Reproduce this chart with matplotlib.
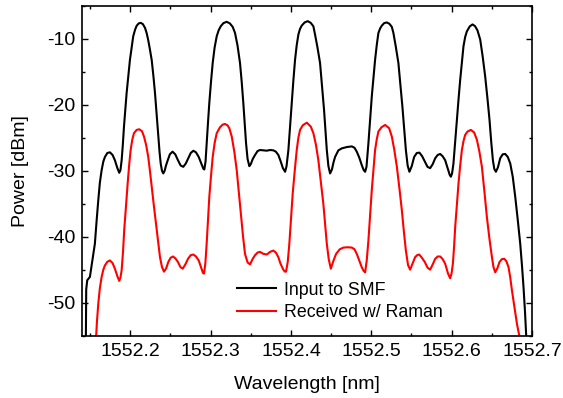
import matplotlib
matplotlib.use("Agg")
import matplotlib.pyplot as plt
from matplotlib.ticker import MultipleLocator

plt.rcParams['font.family'] = ['Liberation Sans', 'DejaVu Sans']

# Input to SMF (black): (wavelength nm, power dBm)
input_points = [
    (1552.1440, -58.0), (1552.1448, -55.0), (1552.1452, -48.0), (1552.1465, -46.6),
    (1552.1498, -46.1), (1552.1530, -43.5), (1552.1560, -41.05), (1552.1582, -37.5),
    (1552.1602, -34.5), (1552.1622, -31.8), (1552.1644, -29.9), (1552.1665, -28.6),
    (1552.1685, -27.9), (1552.1715, -27.3), (1552.1747, -27.2), (1552.1780, -27.6),
    (1552.1809, -28.4), (1552.1840, -29.6), (1552.1863, -30.3), (1552.1878, -29.9),
    (1552.1893, -28.4), (1552.1908, -26.0), (1552.1922, -23.3), (1552.1955, -18.2),
    (1552.1996, -13.2), (1552.2037, -9.6), (1552.2060, -8.6), (1552.2080, -8.0),
    (1552.2105, -7.65), (1552.2130, -7.56), (1552.2157, -7.75), (1552.2183, -8.3),
    (1552.2204, -9.1), (1552.2224, -10.2), (1552.2245, -11.6), (1552.2267, -13.2),
    (1552.2288, -15.6), (1552.2308, -18.2), (1552.2329, -21.5), (1552.2349, -24.8),
    (1552.2365, -27.2), (1552.2379, -28.9), (1552.2395, -30.0), (1552.2411, -30.4),
    (1552.2428, -30.0), (1552.2445, -29.2), (1552.2461, -28.6), (1552.2493, -27.5),
    (1552.2526, -27.1), (1552.2560, -27.5), (1552.2594, -28.4), (1552.2627, -29.2),
    (1552.2660, -29.4), (1552.2691, -28.9), (1552.2722, -28.1), (1552.2753, -27.3),
    (1552.2785, -26.96), (1552.2818, -27.2), (1552.2852, -27.9), (1552.2887, -29.0),
    (1552.2910, -29.7), (1552.2922, -29.8), (1552.2937, -28.6), (1552.2951, -25.8),
    (1552.2968, -22.6), (1552.2984, -19.7), (1552.3005, -16.5), (1552.3026, -13.65),
    (1552.3050, -11.3), (1552.3076, -9.6), (1552.3100, -8.7), (1552.3126, -8.08),
    (1552.3160, -7.6), (1552.3200, -7.4), (1552.3240, -7.65), (1552.3275, -8.17),
    (1552.3304, -9.1), (1552.3335, -11.0), (1552.3366, -13.65), (1552.3387, -16.5),
    (1552.3407, -19.7), (1552.3424, -22.8), (1552.3441, -25.8), (1552.3460, -28.2),
    (1552.3482, -29.3), (1552.3500, -29.0), (1552.3525, -28.2), (1552.3553, -27.6),
    (1552.3585, -27.0), (1552.3615, -26.85), (1552.3657, -26.9), (1552.3699, -26.95),
    (1552.3740, -26.85), (1552.3781, -26.9), (1552.3812, -27.1), (1552.3843, -27.6),
    (1552.3870, -28.5), (1552.3900, -29.6), (1552.3927, -30.15), (1552.3945, -29.3),
    (1552.3968, -26.85), (1552.3989, -23.2), (1552.4010, -19.7), (1552.4030, -16.3),
    (1552.4051, -13.15), (1552.4071, -11.0), (1552.4092, -9.35), (1552.4112, -8.5),
    (1552.4134, -7.98), (1552.4170, -7.5), (1552.4209, -7.3), (1552.4245, -7.55),
    (1552.4279, -8.08), (1552.4300, -9.35), (1552.4330, -11.3), (1552.4362, -13.65),
    (1552.4387, -17.2), (1552.4412, -20.8), (1552.4430, -24.0), (1552.4446, -26.85),
    (1552.4466, -29.3), (1552.4487, -30.4), (1552.4510, -29.8), (1552.4530, -28.7),
    (1552.4549, -27.9), (1552.4590, -26.9), (1552.4633, -26.6), (1552.4695, -26.4),
    (1552.4757, -26.3), (1552.4790, -26.5), (1552.4819, -27.1), (1552.4850, -28.0),
    (1552.4880, -29.1), (1552.4905, -29.9), (1552.4923, -30.15), (1552.4940, -29.4),
    (1552.4964, -25.8), (1552.4985, -22.2), (1552.5006, -18.7), (1552.5027, -15.8),
    (1552.5047, -13.15), (1552.5068, -10.9), (1552.5088, -9.1), (1552.5110, -8.4),
    (1552.5131, -7.98), (1552.5160, -7.6), (1552.5193, -7.5), (1552.5225, -7.7),
    (1552.5255, -8.17), (1552.5275, -9.1), (1552.5305, -11.2), (1552.5337, -13.65),
    (1552.5362, -16.9), (1552.5387, -20.3), (1552.5408, -23.6), (1552.5430, -26.85),
    (1552.5452, -29.2), (1552.5474, -30.15), (1552.5503, -29.3), (1552.5533, -27.9),
    (1552.5566, -27.3), (1552.5599, -27.25), (1552.5633, -27.8), (1552.5666, -28.6),
    (1552.5699, -29.4), (1552.5732, -29.6), (1552.5764, -29.0), (1552.5795, -28.1),
    (1552.5826, -27.6), (1552.5857, -27.45), (1552.5888, -27.8), (1552.5919, -28.4),
    (1552.5955, -29.8), (1552.5975, -30.6), (1552.5990, -30.9), (1552.6005, -30.4),
    (1552.6022, -28.9), (1552.6043, -25.6), (1552.6065, -22.3), (1552.6085, -19.2),
    (1552.6106, -16.2), (1552.6127, -13.5), (1552.6147, -11.1), (1552.6168, -9.7),
    (1552.6189, -8.85), (1552.6225, -8.1), (1552.6259, -7.8), (1552.6290, -8.05),
    (1552.6321, -8.7), (1552.6355, -10.1), (1552.6385, -12.6), (1552.6417, -15.7),
    (1552.6445, -19.0), (1552.6471, -22.3), (1552.6492, -25.6), (1552.6513, -28.4),
    (1552.6530, -29.7), (1552.6550, -30.15), (1552.6575, -29.5), (1552.6604, -28.1),
    (1552.6635, -27.5), (1552.6666, -27.45), (1552.6698, -27.9), (1552.6729, -28.9),
    (1552.6760, -30.9), (1552.6791, -33.95), (1552.6822, -37.4), (1552.6853, -41.05),
    (1552.6875, -44.4), (1552.6894, -47.65), (1552.6912, -51.3), (1552.6928, -55.0),
    (1552.6940, -58.0),
]

# Received w/ Raman (red): (wavelength nm, power dBm)
raman_points = [
    (1552.1567, -57.0), (1552.1585, -53.0), (1552.1602, -50.2), (1552.1622, -47.8),
    (1552.1644, -46.1), (1552.1665, -45.0), (1552.1685, -44.35), (1552.1715, -43.8),
    (1552.1747, -43.6), (1552.1780, -44.0), (1552.1809, -44.85), (1552.1840, -46.0),
    (1552.1863, -46.7), (1552.1878, -46.2), (1552.1893, -45.1), (1552.1910, -42.3),
    (1552.1925, -39.0), (1552.1947, -35.3), (1552.1968, -31.9), (1552.1986, -29.2),
    (1552.2005, -26.85), (1552.2025, -25.3), (1552.2046, -24.3), (1552.2080, -23.8),
    (1552.2112, -23.7), (1552.2146, -24.0), (1552.2171, -24.8), (1552.2198, -26.1),
    (1552.2224, -27.9), (1552.2245, -30.0), (1552.2267, -32.4), (1552.2293, -35.2),
    (1552.2320, -38.0), (1552.2345, -40.7), (1552.2370, -43.1), (1552.2395, -44.6),
    (1552.2420, -45.3), (1552.2447, -44.8), (1552.2473, -43.85), (1552.2502, -43.2),
    (1552.2532, -43.0), (1552.2563, -43.3), (1552.2594, -43.85), (1552.2624, -44.6),
    (1552.2653, -44.85), (1552.2686, -44.2), (1552.2719, -43.35), (1552.2752, -42.8),
    (1552.2785, -42.7), (1552.2818, -43.0), (1552.2852, -43.6), (1552.2885, -44.8),
    (1552.2905, -45.5), (1552.2918, -45.6), (1552.2935, -44.0), (1552.2951, -41.05),
    (1552.2968, -37.5), (1552.2984, -33.95), (1552.3005, -30.8), (1552.3026, -27.9),
    (1552.3050, -25.8), (1552.3076, -24.3), (1552.3117, -23.4), (1552.3150, -23.0),
    (1552.3179, -22.9), (1552.3210, -23.1), (1552.3233, -23.55), (1552.3263, -24.8),
    (1552.3295, -27.1), (1552.3325, -29.9), (1552.3352, -33.4), (1552.3379, -37.0),
    (1552.3404, -40.0), (1552.3428, -42.6), (1552.3460, -43.9), (1552.3491, -44.2),
    (1552.3522, -43.4), (1552.3553, -42.8), (1552.3585, -42.4), (1552.3615, -42.3),
    (1552.3657, -42.6), (1552.3699, -42.7), (1552.3740, -42.3), (1552.3781, -42.1),
    (1552.3812, -42.4), (1552.3843, -43.1), (1552.3870, -44.1), (1552.3905, -45.0),
    (1552.3925, -45.3), (1552.3939, -45.3), (1552.3960, -43.8), (1552.3980, -41.05),
    (1552.4000, -37.3), (1552.4022, -33.4), (1552.4047, -30.0), (1552.4072, -26.85),
    (1552.4092, -25.0), (1552.4113, -23.8), (1552.4147, -23.1), (1552.4197, -22.7),
    (1552.4247, -23.3), (1552.4279, -24.3), (1552.4310, -26.0), (1552.4341, -28.4),
    (1552.4372, -31.7), (1552.4403, -35.0), (1552.4425, -38.1), (1552.4446, -41.05),
    (1552.4470, -43.4), (1552.4496, -44.85), (1552.4530, -43.6), (1552.4562, -42.6),
    (1552.4608, -41.9), (1552.4653, -41.65), (1552.4705, -41.6), (1552.4757, -41.65),
    (1552.4790, -41.9), (1552.4819, -42.6), (1552.4850, -43.6), (1552.4880, -44.6),
    (1552.4905, -45.2), (1552.4923, -45.4), (1552.4943, -43.6), (1552.4964, -40.55),
    (1552.4985, -36.7), (1552.5006, -32.9), (1552.5027, -29.7), (1552.5047, -26.85),
    (1552.5068, -25.2), (1552.5088, -24.05), (1552.5126, -23.4), (1552.5172, -23.05),
    (1552.5222, -23.55), (1552.5255, -24.8), (1552.5287, -26.9), (1552.5318, -29.4),
    (1552.5350, -32.7), (1552.5380, -36.0), (1552.5405, -39.2), (1552.5430, -42.1),
    (1552.5457, -44.3), (1552.5483, -45.0), (1552.5515, -44.0), (1552.5545, -43.1),
    (1552.5570, -42.8), (1552.5595, -42.7), (1552.5630, -43.2), (1552.5666, -43.85),
    (1552.5700, -44.7), (1552.5732, -45.0), (1552.5764, -44.2), (1552.5795, -43.35),
    (1552.5826, -43.0), (1552.5857, -43.0), (1552.5888, -43.4), (1552.5919, -44.1),
    (1552.5955, -45.6), (1552.5981, -46.3), (1552.5998, -45.6), (1552.6015, -44.1),
    (1552.6030, -41.5), (1552.6044, -38.5), (1552.6065, -35.2), (1552.6085, -31.9),
    (1552.6106, -29.2), (1552.6127, -26.85), (1552.6147, -25.5), (1552.6168, -24.55),
    (1552.6197, -24.05), (1552.6239, -23.8), (1552.6280, -24.2), (1552.6314, -25.3),
    (1552.6345, -27.1), (1552.6376, -29.4), (1552.6407, -33.1), (1552.6438, -37.0),
    (1552.6470, -40.3), (1552.6501, -43.1), (1552.6520, -44.6), (1552.6542, -45.4),
    (1552.6568, -44.8), (1552.6595, -43.85), (1552.6625, -43.4), (1552.6654, -43.35),
    (1552.6680, -43.7), (1552.6707, -44.6), (1552.6728, -46.1), (1552.6750, -48.15),
    (1552.6781, -50.7), (1552.6812, -53.2), (1552.6841, -55.0), (1552.6853, -57.0),
]

x_ticks = [1552.2, 1552.3, 1552.4, 1552.5, 1552.6, 1552.7]
y_ticks = [-10, -20, -30, -40, -50]
labels = ["Input to SMF", "Received w/ Raman"]

wl_input = [p[0] for p in input_points]
p_input = [p[1] for p in input_points]
wl_raman = [p[0] for p in raman_points]
p_raman = [p[1] for p in raman_points]

fig = plt.figure(figsize=(5.63, 3.98), dpi=100)
ax = fig.add_axes([0.1457, 0.1568, 0.7993, 0.8282])

ax.plot(wl_input, p_input, color='black', lw=1.5, label=labels[0],
        solid_joinstyle='round')
ax.plot(wl_raman, p_raman, color='#ff0000', lw=1.5, label=labels[1],
        solid_joinstyle='round')

ax.set_xlim(1552.14, 1552.70)
ax.set_ylim(-55, -5)
ax.set_xticks(x_ticks)
ax.set_xticklabels([f"{v:.1f}" for v in x_ticks])
ax.set_yticks(y_ticks)
ax.set_yticklabels([str(v) for v in y_ticks])
ax.xaxis.set_minor_locator(MultipleLocator(0.05))
ax.yaxis.set_minor_locator(MultipleLocator(5))
ax.tick_params(which='both', direction='in', top=True, right=True, width=1.0,
               labelsize=14, colors='black')
ax.tick_params(which='major', length=4.5, pad=5)
ax.tick_params(which='minor', length=2.5)
for s in ax.spines.values():
    s.set_linewidth(1.2)

ax.set_xlabel("Wavelength [nm]", fontsize=14, labelpad=12)
ax.set_ylabel("Power [dBm]", fontsize=14, labelpad=13)

ax.legend(loc='center left', bbox_to_anchor=(0.344, 0.104), frameon=False,
          fontsize=12.8, handlelength=2.2, handletextpad=0.45, borderpad=0,
          borderaxespad=0, labelspacing=0.3)

fig.savefig("out.png", dpi=100)
